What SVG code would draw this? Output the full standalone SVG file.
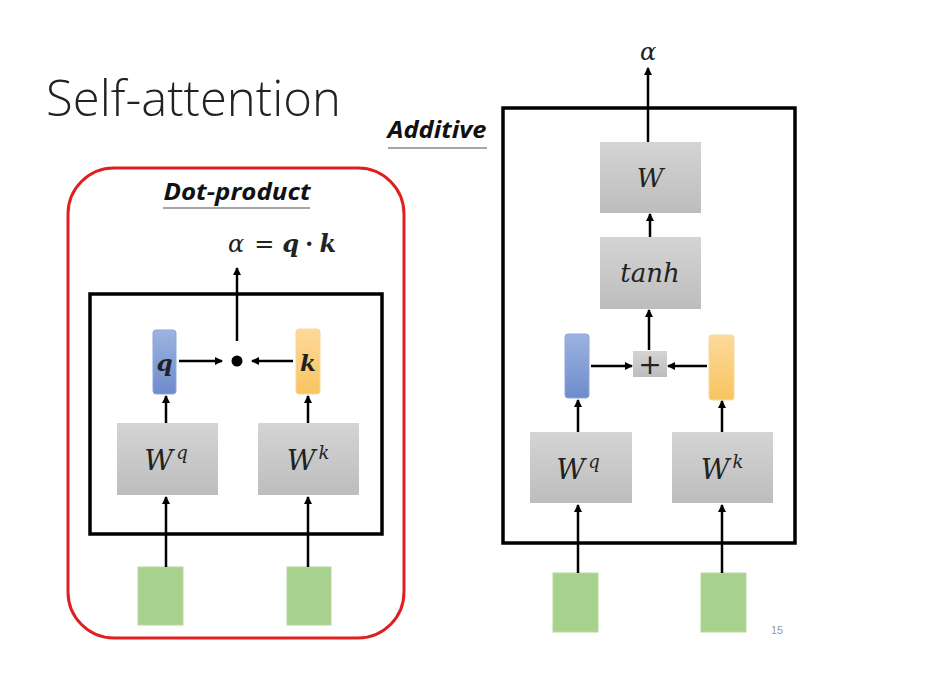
<svg xmlns="http://www.w3.org/2000/svg" width="926" height="678" viewBox="0 0 926 678">
<defs>
<linearGradient id="gGray" x1="0" y1="0" x2="0" y2="1"><stop offset="0" stop-color="#d4d4d4"/><stop offset="1" stop-color="#bdbdbd"/></linearGradient>
<linearGradient id="gBlue" x1="0" y1="0" x2="0" y2="1"><stop offset="0" stop-color="#9db3e0"/><stop offset="1" stop-color="#6e8bcc"/></linearGradient>
<linearGradient id="gYel" x1="0" y1="0" x2="0" y2="1"><stop offset="0" stop-color="#fdd99a"/><stop offset="1" stop-color="#f8c460"/></linearGradient>
<marker id="ah" markerWidth="8" markerHeight="8" refX="7" refY="4" orient="auto" markerUnits="userSpaceOnUse"><path d="M0,0 L8,4 L0,8 Z" fill="#000"/></marker>
<style>
.frame{fill:none;stroke:#000;stroke-width:3.5}
.gray{fill:url(#gGray)}
.blue{fill:url(#gBlue);stroke:#8fa6d8;stroke-width:1}
.yel{fill:url(#gYel);stroke:#f5d8a0;stroke-width:1}
.green{fill:#a9d18e;stroke:#b5d9a0;stroke-width:1}
.conn{stroke:#000;stroke-width:2.5;fill:none;marker-end:url(#ah)}
.math{font-family:"DejaVu Serif","Liberation Serif",serif;font-style:italic;fill:#222}
.lbl{font-family:"Open Sans","Liberation Sans",sans-serif;font-weight:bold;font-style:italic;fill:#111}
</style>
</defs>
<rect width="926" height="678" fill="#fff"/>
<text x="46" y="116" font-family="Open Sans, Liberation Sans, sans-serif" font-size="49" font-weight="300" fill="#222">Self-attention</text>

<g id="dot-product-panel">
<rect x="68" y="168" width="336" height="470" rx="46" fill="none" stroke="#e02020" stroke-width="3"/>
<text class="lbl" x="237" y="200" font-size="23" text-anchor="middle" textLength="147" lengthAdjust="spacingAndGlyphs">Dot-product</text>
<line x1="163" y1="208" x2="310" y2="208" stroke="#888" stroke-width="1.5"/>
<text x="228" y="252" font-size="24" class="math" font-style="normal"><tspan font-style="italic">α</tspan><tspan dx="10" font-style="normal">=</tspan><tspan dx="8" font-weight="bold" font-style="italic">q</tspan><tspan dx="6" font-style="normal" font-weight="bold">·</tspan><tspan dx="6" font-weight="bold" font-style="italic">k</tspan></text>
<rect class="frame" x="90" y="294" width="292" height="240"/>
</g>

<g id="dp-q"><rect class="blue" x="153" y="330" width="23" height="64" rx="3"/><text class="math" x="164.5" y="371" font-size="23" font-weight="bold" text-anchor="middle">q</text></g>
<g id="dp-k"><rect class="yel" x="296" y="329" width="24" height="65" rx="3"/><text class="math" x="308" y="371" font-size="23" font-weight="bold" text-anchor="middle">k</text></g>
<g id="dp-dot"><circle cx="237" cy="361" r="5.5" fill="#000"/></g>
<g id="dp-wq"><rect class="gray" x="117" y="423" width="101" height="72"/><text class="math" x="166" y="470" font-size="28" text-anchor="middle">W<tspan dx="3" dy="-11" font-size="18">q</tspan></text></g>
<g id="dp-wk"><rect class="gray" x="258" y="423" width="101" height="72"/><text class="math" x="308" y="470" font-size="28" text-anchor="middle">W<tspan dx="3" dy="-11" font-size="18">k</tspan></text></g>
<g id="dp-in1"><rect class="green" x="138" y="567" width="45" height="58"/></g>
<g id="dp-in2"><rect class="green" x="287" y="567" width="44" height="58"/></g>

<text class="lbl" x="437" y="138" font-size="23" text-anchor="middle" textLength="99" lengthAdjust="spacingAndGlyphs">Additive</text>
<line x1="388" y1="148" x2="487" y2="148" stroke="#888" stroke-width="1.5"/>
<text class="math" x="648" y="60" font-size="24" text-anchor="middle">α</text>
<g id="add-frame"><rect class="frame" x="503" y="108" width="292" height="435"/></g>
<g id="add-w"><rect class="gray" x="600" y="142" width="101" height="71"/><text class="math" x="650" y="187" font-size="26" text-anchor="middle">W</text></g>
<g id="add-tanh"><rect class="gray" x="600" y="237" width="101" height="72"/><text class="math" x="650" y="282" font-size="26" text-anchor="middle">tanh</text></g>
<g id="add-plus"><rect class="gray" x="633" y="351" width="34" height="26"/><text x="650" y="374" font-family="DejaVu Serif, Liberation Serif, serif" font-size="28" fill="#222" text-anchor="middle">+</text></g>
<g id="add-q"><rect class="blue" x="565" y="334" width="24" height="64" rx="3"/></g>
<g id="add-k"><rect class="yel" x="709" y="335" width="25" height="65" rx="3"/></g>
<g id="add-wq"><rect class="gray" x="530" y="432" width="102" height="71"/><text class="math" x="578" y="479" font-size="28" text-anchor="middle">W<tspan dx="3" dy="-11" font-size="18">q</tspan></text></g>
<g id="add-wk"><rect class="gray" x="672" y="432" width="101" height="71"/><text class="math" x="722" y="479" font-size="28" text-anchor="middle">W<tspan dx="3" dy="-11" font-size="18">k</tspan></text></g>
<g id="add-in1"><rect class="green" x="553" y="573" width="45" height="59"/></g>
<g id="add-in2"><rect class="green" x="701" y="573" width="45" height="59"/></g>

<g id="connectors">
<line class="conn" x1="237" y1="341" x2="237" y2="268"/>
<line class="conn" x1="179" y1="361" x2="222" y2="361"/>
<line class="conn" x1="293" y1="361" x2="252" y2="361"/>
<line class="conn" x1="166" y1="423" x2="166" y2="396"/>
<line class="conn" x1="308" y1="423" x2="308" y2="396"/>
<line class="conn" x1="166" y1="567" x2="166" y2="497"/>
<line class="conn" x1="308" y1="567" x2="308" y2="497"/>

<line class="conn" x1="648" y1="142" x2="648" y2="68"/>
<line class="conn" x1="650" y1="237" x2="650" y2="214"/>
<line class="conn" x1="649" y1="350" x2="649" y2="310"/>
<line class="conn" x1="591" y1="366" x2="632" y2="366"/>
<line class="conn" x1="707" y1="366" x2="668" y2="366"/>
<line class="conn" x1="578" y1="432" x2="578" y2="400"/>
<line class="conn" x1="722" y1="432" x2="722" y2="401"/>
<line class="conn" x1="578" y1="573" x2="578" y2="505"/>
<line class="conn" x1="722" y1="573" x2="722" y2="505"/>
</g>
<text x="771" y="634" font-family="Liberation Sans, sans-serif" font-size="11" fill="#999">15</text>
</svg>
